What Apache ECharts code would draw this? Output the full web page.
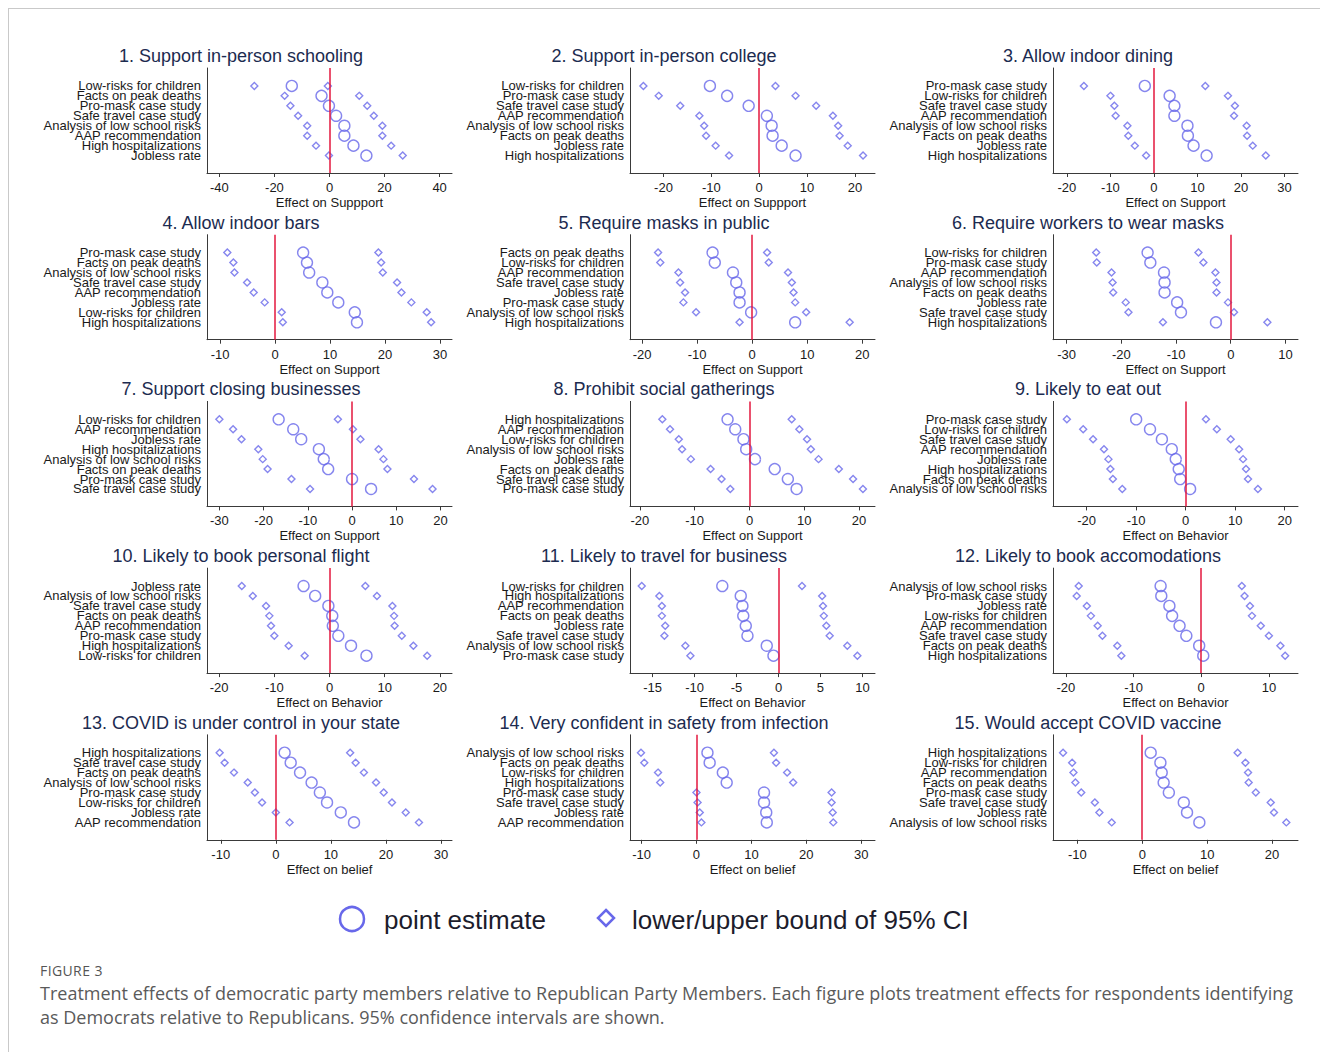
<!DOCTYPE html>
<html>
<head>
<meta charset="utf-8">
<title>Figure 3</title>
<script src="https://cdn.jsdelivr.net/npm/echarts@6/dist/echarts.min.js"></script>
<style>
  body { margin: 0; background: #fff; }
  #frame { position: absolute; left: 8px; top: 8px; width: 1320px; height: 1060px;
           border-left: 1px solid #c9c9c9; border-top: 1px solid #c9c9c9; }
  #chart { position: absolute; left: 0; top: 0; width: 1320px; height: 950px; }
  #fig { position: absolute; left: 40px; top: 961px; font: 14px "Open Sans", sans-serif;
         color: #555; letter-spacing: 0.4px; }
  #cap { position: absolute; left: 40px; top: 981px; font: 18px/24px "Open Sans", sans-serif;
         color: #5a5a5a; white-space: nowrap; }
</style>
</head>
<body>
<div id="frame"></div>
<div id="chart"></div>
<div id="fig">FIGURE 3</div>
<div id="cap">Treatment effects of democratic party members relative to Republican Party Members. Each figure plots treatment effects for respondents identifying<br>as Democrats relative to Republicans. 95% confidence intervals are shown.</div>
<script>
// panel titles, axis names
const panelTitles = [
    '1. Support in-person schooling', '2. Support in-person college', '3. Allow indoor dining',
    '4. Allow indoor bars', '5. Require masks in public', '6. Require workers to wear masks',
    '7. Support closing businesses', '8. Prohibit social gatherings', '9. Likely to eat out',
    '10. Likely to book personal flight', '11. Likely to travel for business', '12. Likely to book accomodations',
    '13. COVID is under control in your state', '14. Very confident in safety from infection', '15. Would accept COVID vaccine'
];
const axisNames = [
    'Effect on Suppport', 'Effect on Suppport', 'Effect on Support',
    'Effect on Support', 'Effect on Support', 'Effect on Support',
    'Effect on Support', 'Effect on Support', 'Effect on Behavior',
    'Effect on Behavior', 'Effect on Behavior', 'Effect on Behavior',
    'Effect on belief', 'Effect on belief', 'Effect on belief'
];

// row labels, top to bottom
const rowLabels = [
    ['Low-risks for children', 'Facts on peak deaths', 'Pro-mask case study', 'Safe travel case study', 'Analysis of low school risks', 'AAP recommendation', 'High hospitalizations', 'Jobless rate'],
    ['Low-risks for children', 'Pro-mask case study', 'Safe travel case study', 'AAP recommendation', 'Analysis of low school risks', 'Facts on peak deaths', 'Jobless rate', 'High hospitalizations'],
    ['Pro-mask case study', 'Low-risks for children', 'Safe travel case study', 'AAP recommendation', 'Analysis of low school risks', 'Facts on peak deaths', 'Jobless rate', 'High hospitalizations'],
    ['Pro-mask case study', 'Facts on peak deaths', 'Analysis of low school risks', 'Safe travel case study', 'AAP recommendation', 'Jobless rate', 'Low-risks for children', 'High hospitalizations'],
    ['Facts on peak deaths', 'Low-risks for children', 'AAP recommendation', 'Safe travel case study', 'Jobless rate', 'Pro-mask case study', 'Analysis of low school risks', 'High hospitalizations'],
    ['Low-risks for children', 'Pro-mask case study', 'AAP recommendation', 'Analysis of low school risks', 'Facts on peak deaths', 'Jobless rate', 'Safe travel case study', 'High hospitalizations'],
    ['Low-risks for children', 'AAP recommendation', 'Jobless rate', 'High hospitalizations', 'Analysis of low school risks', 'Facts on peak deaths', 'Pro-mask case study', 'Safe travel case study'],
    ['High hospitalizations', 'AAP recommendation', 'Low-risks for children', 'Analysis of low school risks', 'Jobless rate', 'Facts on peak deaths', 'Safe travel case study', 'Pro-mask case study'],
    ['Pro-mask case study', 'Low-risks for children', 'Safe travel case study', 'AAP recommendation', 'Jobless rate', 'High hospitalizations', 'Facts on peak deaths', 'Analysis of low school risks'],
    ['Jobless rate', 'Analysis of low school risks', 'Safe travel case study', 'Facts on peak deaths', 'AAP recommendation', 'Pro-mask case study', 'High hospitalizations', 'Low-risks for children'],
    ['Low-risks for children', 'High hospitalizations', 'AAP recommendation', 'Facts on peak deaths', 'Jobless rate', 'Safe travel case study', 'Analysis of low school risks', 'Pro-mask case study'],
    ['Analysis of low school risks', 'Pro-mask case study', 'Jobless rate', 'Low-risks for children', 'AAP recommendation', 'Safe travel case study', 'Facts on peak deaths', 'High hospitalizations'],
    ['High hospitalizations', 'Safe travel case study', 'Facts on peak deaths', 'Analysis of low school risks', 'Pro-mask case study', 'Low-risks for children', 'Jobless rate', 'AAP recommendation'],
    ['Analysis of low school risks', 'Facts on peak deaths', 'Low-risks for children', 'High hospitalizations', 'Pro-mask case study', 'Safe travel case study', 'Jobless rate', 'AAP recommendation'],
    ['High hospitalizations', 'Low-risks for children', 'AAP recommendation', 'Facts on peak deaths', 'Pro-mask case study', 'Safe travel case study', 'Jobless rate', 'Analysis of low school risks']
];

// lower bound of 95% CI
const lowerBounds = [
    [-27.3, -16.3, -14.2, -11.4, -8.1, -8.1, -4.9, -0.2],
    [-24.2, -21.0, -16.5, -12.5, -11.5, -11.1, -9.1, -6.3],
    [-16.1, -10.0, -9.1, -8.8, -6.1, -5.9, -4.4, -1.8],
    [-8.7, -7.6, -7.4, -5.1, -3.9, -1.9, 1.2, 1.4],
    [-17.1, -16.7, -13.4, -13.1, -12.2, -12.5, -10.2, -2.3],
    [-24.6, -24.5, -21.8, -21.6, -21.5, -19.2, -18.7, -12.4],
    [-30.0, -26.9, -25.0, -21.2, -20.2, -19.1, -13.7, -9.5],
    [-15.9, -14.5, -12.9, -12.3, -10.7, -7.1, -5.1, -3.5],
    [-24.0, -20.7, -18.7, -16.5, -15.6, -15.2, -14.7, -12.8],
    [-15.9, -13.9, -11.5, -10.9, -10.6, -10.0, -7.4, -4.5],
    [-16.3, -14.2, -13.9, -13.9, -13.5, -13.6, -11.1, -10.5],
    [-18.1, -18.4, -16.9, -16.3, -15.3, -14.6, -12.4, -11.8],
    [-10.2, -9.3, -7.6, -5.1, -3.8, -2.5, 0.0, 2.5],
    [-10.1, -9.5, -7.0, -6.6, 0.0, 0.2, 0.6, 0.9],
    [-12.2, -10.8, -10.6, -10.3, -9.4, -7.3, -6.6, -4.7]
];

// point estimates
const pointEstimates = [
    [-13.7, -2.9, -0.2, 2.4, 5.4, 5.4, 8.7, 13.4],
    [-10.3, -6.7, -2.2, 1.6, 2.6, 2.8, 4.7, 7.6],
    [-2.1, 3.6, 4.7, 4.7, 7.7, 7.8, 9.1, 12.1],
    [5.1, 5.8, 6.2, 8.6, 9.5, 11.5, 14.5, 14.9],
    [-7.2, -6.8, -3.5, -2.9, -2.3, -2.3, -0.2, 7.8],
    [-15.2, -14.7, -12.2, -12.1, -12.1, -9.8, -9.1, -2.7],
    [-16.6, -13.3, -11.5, -7.5, -6.4, -5.4, 0.0, 4.3],
    [-4.0, -2.6, -1.1, -0.6, 1.0, 4.6, 7.0, 8.6],
    [-10.0, -7.2, -4.8, -2.8, -2.0, -1.4, -1.1, 0.9],
    [-4.7, -2.6, -0.2, 0.5, 0.6, 1.6, 3.9, 6.7],
    [-6.7, -4.5, -4.3, -4.2, -3.9, -3.7, -1.4, -0.6],
    [-6.0, -5.9, -4.7, -4.3, -3.2, -2.2, -0.3, 0.3],
    [1.6, 2.7, 4.4, 6.5, 8.0, 9.3, 11.8, 14.2],
    [2.0, 2.4, 4.8, 5.5, 12.3, 12.3, 12.7, 12.8],
    [1.3, 2.8, 3.0, 3.3, 4.1, 6.4, 6.9, 8.8]
];

// upper bound of 95% CI
const upperBounds = [
    [-0.6, 10.8, 13.7, 16.1, 19.2, 19.2, 22.4, 26.6],
    [3.4, 7.6, 11.9, 15.4, 16.5, 16.8, 18.5, 21.7],
    [11.8, 17.0, 18.6, 18.4, 21.3, 21.4, 22.7, 25.7],
    [18.8, 19.3, 19.6, 22.2, 23.0, 24.8, 27.6, 28.4],
    [2.7, 3.0, 6.5, 7.2, 7.5, 7.8, 9.8, 17.7],
    [-5.9, -5.0, -2.8, -2.6, -2.6, -0.5, 0.6, 6.7],
    [-3.2, 0.2, 1.9, 6.0, 7.1, 8.0, 14.0, 18.2],
    [7.7, 9.1, 10.5, 11.2, 12.6, 16.3, 18.9, 20.7],
    [4.1, 6.3, 9.1, 10.8, 11.6, 12.2, 12.6, 14.6],
    [6.5, 8.6, 11.4, 11.7, 11.8, 13.1, 15.2, 17.7],
    [2.8, 5.2, 5.3, 5.4, 5.7, 6.1, 8.2, 9.4],
    [6.0, 6.4, 7.2, 7.5, 8.8, 10.0, 11.7, 12.4],
    [13.5, 14.5, 16.0, 18.2, 19.6, 21.1, 23.6, 26.0],
    [14.1, 14.5, 16.5, 17.6, 24.6, 24.6, 24.8, 24.9],
    [14.7, 15.9, 16.3, 16.4, 17.5, 19.8, 20.3, 22.2]
];

// x-axis extents and tick labels
const axisMin = [-44.5, -27, -23.2, -12.4, -22.2, -32.5, -32.8, -21.8, -26.8, -22.2, -17.7, -21.9, -12.5, -12.1, -13.75];
const axisMax = [44.5, 24.2, 33.1, 32.2, 22.3, 12.3, 22.6, 22.9, 22.7, 22.2, 11.5, 14.3, 32, 32.5, 24];
const tickValues = [
    [-40, -20, 0, 20, 40], [-20, -10, 0, 10, 20], [-20, -10, 0, 10, 20, 30],
    [-10, 0, 10, 20, 30], [-20, -10, 0, 10, 20], [-30, -20, -10, 0, 10],
    [-30, -20, -10, 0, 10, 20], [-20, -10, 0, 10, 20], [-20, -10, 0, 10, 20],
    [-20, -10, 0, 10, 20], [-15, -10, -5, 0, 5, 10], [-20, -10, 0, 10],
    [-10, 0, 10, 20, 30], [-10, 0, 10, 20, 30], [-10, 0, 10, 20]
];

const FONT = '"Liberation Sans", Arial, sans-serif';
const blue = '#6868ea';
const red = '#e3173e';
const colLeft = [207, 630, 1053];
const titleCenter = [241, 664, 1088];
const plotW = 245, plotH = 105, rowTop = 68, rowStep = 166.7;
// blank end slots keep echarts' min/max label check away from the real rows
const labelSlots = [-1.5, 0, 1, 2, 3, 4, 5, 6, 7, 8.5];

var chart = echarts.init(document.getElementById('chart'), null, { renderer: 'svg' });

var grids = [], xAxes = [], yAxes = [], series = [], titles = [];

panelTitles.forEach(function (t, i) {
    var r = Math.floor(i / 3), c = i % 3;
    var top = rowTop + r * rowStep;

    grids.push({ left: colLeft[c], top: top, width: plotW, height: plotH, outerBoundsMode: 'none' });

    titles.push({
        text: t, left: titleCenter[c], top: top - 21, textAlign: 'center', padding: 0,
        textStyle: { fontFamily: FONT, fontSize: 18, fontWeight: 'normal', color: '#1c2b50' }
    });

    xAxes.push({
        gridIndex: i, type: 'value', min: axisMin[i], max: axisMax[i],
        name: axisNames[i], nameLocation: 'middle', nameGap: 23,
        nameTextStyle: { fontFamily: FONT, fontSize: 13, color: '#1a1a1a' },
        axisLine: { show: true, onZero: false, lineStyle: { color: '#3a3a3a', width: 1 } },
        axisTick: { show: true, length: 4, customValues: tickValues[i], lineStyle: { color: '#3a3a3a' } },
        axisLabel: { customValues: tickValues[i], margin: 8, showMinLabel: true, showMaxLabel: true,
                     fontFamily: FONT, fontSize: 13, color: '#1a1a1a' },
        splitLine: { show: false }
    });

    yAxes.push({
        gridIndex: i, type: 'value', inverse: true, min: -1.8, max: 8.75,
        axisLine: { show: true, onZero: false, lineStyle: { color: '#3a3a3a', width: 1 } },
        axisTick: { show: false },
        splitLine: { show: false },
        axisLabel: {
            customValues: labelSlots, margin: 6, hideOverlap: false,
            fontFamily: FONT, fontSize: 13, color: '#1a1a1a', lineHeight: 10,
            formatter: function (v) { return rowLabels[i][v] || ''; }
        }
    });

    series.push({
        name: 'point estimate', type: 'scatter', xAxisIndex: i, yAxisIndex: i,
        symbol: 'circle', symbolSize: 11, z: 3,
        itemStyle: { color: 'rgba(255,255,255,0)', borderColor: blue, borderWidth: 1.4 },
        data: pointEstimates[i].map(function (v, k) { return [v, k]; }),
        markLine: {
            silent: true, symbol: ['none', 'none'], label: { show: false },
            lineStyle: { color: red, width: 1.5, type: 'solid' },
            data: [{ xAxis: 0 }]
        }
    });

    series.push({
        name: 'lower/upper bound of 95% CI', type: 'scatter', xAxisIndex: i, yAxisIndex: i,
        symbol: 'diamond', symbolSize: 7, z: 3,
        itemStyle: { color: 'rgba(255,255,255,0)', borderColor: blue, borderWidth: 1.4 },
        data: lowerBounds[i].map(function (v, k) { return [v, k]; })
            .concat(upperBounds[i].map(function (v, k) { return [v, k]; }))
    });
});

var option = {
    animation: false,
    backgroundColor: 'transparent',
    title: titles,
    grid: grids,
    xAxis: xAxes,
    yAxis: yAxes,
    series: series,
    // legend drawn by hand to get the two marker sizes of the original
    graphic: [
        { type: 'circle', shape: { cx: 352, cy: 919, r: 12 }, style: { fill: 'none', stroke: blue, lineWidth: 2.5 } },
        { type: 'text', style: { x: 384, y: 920, text: 'point estimate', font: '26px ' + FONT, fill: '#1c1c2c', verticalAlign: 'middle' } },
        { type: 'polygon', shape: { points: [[606, 910], [614, 918], [606, 926], [598, 918]] }, style: { fill: 'none', stroke: blue, lineWidth: 2.5 } },
        { type: 'text', style: { x: 632, y: 920, text: 'lower/upper bound of 95% CI', font: '26px ' + FONT, fill: '#1c1c2c', verticalAlign: 'middle' } }
    ]
};

option && chart.setOption(option);
</script>
</body>
</html>
